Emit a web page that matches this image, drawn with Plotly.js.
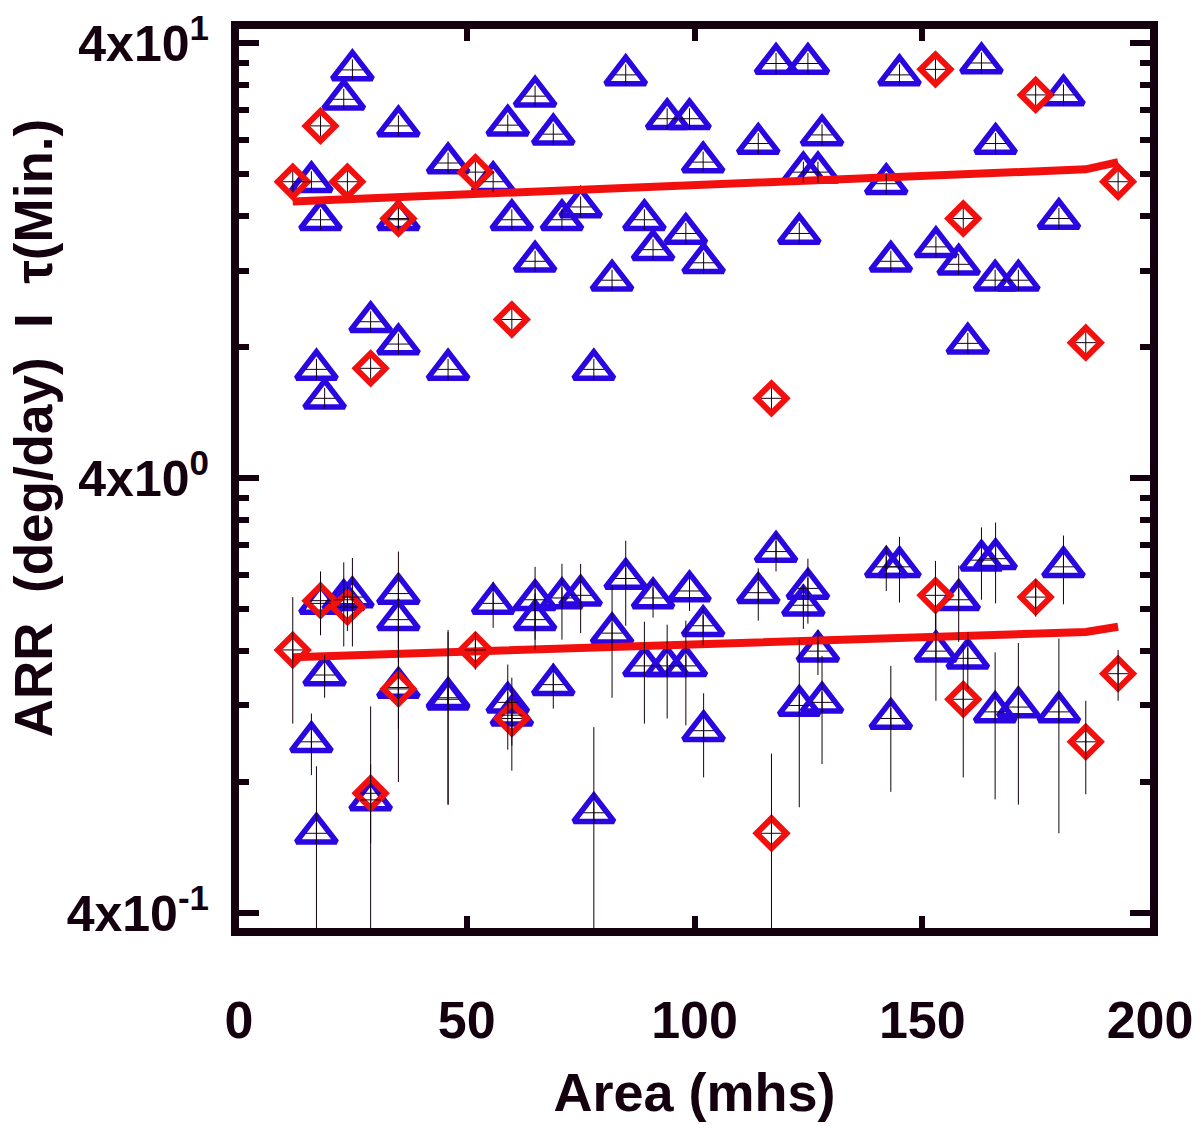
<!DOCTYPE html>
<html>
<head>
<meta charset="utf-8">
<script src="https://cdn.plot.ly/plotly-3.0.1.min.js"></script>
<style>
  html, body { margin: 0; padding: 0; background: #fff; }
  #chart { width: 1200px; height: 1125px; }
</style>
</head>
<body>
<div id="chart"></div>
<script>
// Area (mhs) of each point, triangles and diamonds
var triX = [15.9, 17.0, 17.9, 18.8, 23.0, 24.9, 28.9, 35.0, 35.0, 35.0,
            45.9, 45.9, 55.8, 59.0, 59.9, 65.0, 65.0, 69.0, 70.9, 75.0,
            77.9, 81.9, 84.9, 89.0, 90.9, 94.0, 98.1, 98.9, 101.9, 102.0,
            114.0, 117.9, 123.0, 123.9, 124.9, 127.1, 128.0, 142.1, 143.1, 145.0,
            153.0, 158.0, 160.0, 163.0, 166.1, 166.0, 171.1, 180.0, 181.0];
// tau (min), upper cloud
var triTop = [19.2, 7.11, 15.7, 6.10, 29.7, 34.7, 9.15, 25.8, 15.7, 8.13,
              21.2, 7.11, 19.2, 25.9, 15.7, 30.2, 12.6, 24.7, 15.7, 16.8,
              7.11, 11.4, 33.8, 15.7, 13.4, 26.8, 14.6, 26.8, 21.3, 12.5,
              23.5, 35.9, 14.6, 20.2, 35.9, 20.2, 24.6, 19.0, 12.6, 33.8,
              13.6, 12.4, 8.16, 36.0, 23.5, 11.4, 11.4, 15.8, 30.4];
// ARR (deg/day), lower cloud, and its error
var triBot = [0.99, 0.61, 2.06, 1.41, 2.10, 2.13, 0.728, 2.17, 1.89, 1.32,
              1.24, 1.25, 2.06, 1.22, 1.14, 2.10, 1.89, 1.34, 2.12, 2.15,
              0.68, 1.76, 2.35, 1.48, 2.12, 1.48, 1.48, 2.20, 1.83, 1.05,
              2.18, 2.71, 1.20, 2.04, 2.23, 1.60, 1.22, 2.50, 1.12, 2.50,
              1.60, 2.10, 1.54, 2.59, 2.61, 1.16, 1.19, 1.16, 2.50];
var triErr = [0.16, 0.26, 0.31, 0.16, 0.46, 0.49, 0.15, 0.54, 0.38, 0.26,
              0.53, 0.54, 0.25, 0.27, 0.17, 0.40, 0.28, 0.16, 0.42, 0.39,
              0.39, 0.51, 0.52, 0.39, 0.21, 0.36, 0.40, 0.22, 0.18, 0.23,
              0.30, 0.27, 0.50, 0.24, 0.38, 0.19, 0.34, 0.30, 0.36, 0.43,
              0.37, 0.42, 0.23, 0.49, 0.55, 0.43, 0.48, 0.55, 0.45];

var diaX = [11.8, 17.9, 23.8, 28.9, 35.0, 51.9, 59.9, 116.9, 152.9, 159.0, 174.9, 185.9, 193.0];
var diaTop = [19.2, 25.8, 19.2, 7.15, 15.8, 20.2, 9.26, 6.10, 34.8, 15.8, 30.4, 8.19, 19.2];
var diaBot = [1.61, 2.09, 2.02, 0.754, 1.31, 1.61, 1.12, 0.61, 2.15, 1.24, 2.13, 0.99, 1.42];
var diaErr = [0.52, 0.35, 0.24, 0.44, 0.51, 0.16, 0.27, 0.32, 0.43, 0.42, 0.21, 0.24, 0.19];

// red fit lines
var fitX = [11.8, 185.9, 193.0];
var fitTop = [17.3, 20.5, 21.3];
var fitBot = [1.55, 1.77, 1.82];

// axis ticks
var xTicks = [0, 50, 100, 150, 200];
var yTicks = [0.4, 4, 40];
var yTickText = ['4x10<sup>-1</sup>', '4x10<sup>0</sup>', '4x10<sup>1</sup>'];
var yMinor = [0.8, 1.2, 1.6, 2.0, 2.4, 2.8, 3.2, 3.6, 8, 12, 16, 20, 24, 28, 32, 36];

var BLUE = '#2a06e0', RED = '#f2100e', INK = '#14000f';
var FONT = "'Liberation Sans', Arial, sans-serif";

function tri(y) {
  return {x: triX, y: y, type: 'scatter', mode: 'markers', hoverinfo: 'skip',
    marker: {symbol: 'triangle-up-open', size: 35, color: BLUE, line: {width: 5.5, color: BLUE}}};
}
function dia(y) {
  return {x: diaX, y: y, type: 'scatter', mode: 'markers', hoverinfo: 'skip',
    marker: {symbol: 'diamond-open', size: 23, color: RED, line: {width: 6, color: RED}}};
}
function fit(y) {
  return {x: fitX, y: y, type: 'scatter', mode: 'lines', hoverinfo: 'skip',
    line: {color: RED, width: 8}};
}
function cross(x, y, err) {
  var t = {x: x, y: y, type: 'scatter', mode: 'markers', hoverinfo: 'skip',
    marker: {symbol: 'cross-thin-open', size: 15, color: INK, line: {width: 1, color: INK}}};
  if (err) t.error_y = {type: 'data', array: err, visible: true, color: INK, thickness: 1, width: 0};
  return t;
}

var data = [
  tri(triTop), tri(triBot),
  dia(diaTop), dia(diaBot),
  fit(fitTop), fit(fitBot),
  cross(triX, triTop), cross(diaX, diaTop),
  cross(triX, triBot, triErr), cross(diaX, diaBot, diaErr)
];

var layout = {
  width: 1200, height: 1125,
  margin: {l: 239, r: 50, t: 29, b: 197},
  paper_bgcolor: '#fff', plot_bgcolor: '#fff',
  showlegend: false,
  font: {family: FONT, color: INK, weight: 'bold'},
  xaxis: {
    range: [0, 200], tickmode: 'array', tickvals: xTicks,
    ticks: 'inside', ticklen: 12, tickwidth: 6, tickcolor: INK,
    showline: true, linewidth: 8, linecolor: INK, mirror: 'ticks',
    showgrid: false, zeroline: false,
    tickfont: {family: FONT, size: 52, color: INK, weight: 'bold'},
    ticklabelstandoff: 40, ticklabeloverflow: 'allow',
    title: {text: 'Area (mhs)', standoff: 28, font: {family: FONT, size: 54, color: INK, weight: 'bold'}}
  },
  yaxis: {
    type: 'log', range: [-0.4324, 1.6344],
    tickmode: 'array', tickvals: yTicks, ticktext: yTickText,
    ticks: 'inside', ticklen: 20, tickwidth: 6, tickcolor: INK,
    minor: {tickmode: 'array', tickvals: yMinor, ticks: 'inside', ticklen: 10, tickwidth: 6, tickcolor: INK, showgrid: false},
    showline: true, linewidth: 8, linecolor: INK, mirror: 'ticks',
    showgrid: false, zeroline: false,
    tickfont: {family: FONT, size: 50, color: INK, weight: 'bold'},
    ticklabelstandoff: 12
  },
  annotations: [{
    text: 'ARR  (deg/day)  I  \u03c4(Min.)',
    xref: 'paper', yref: 'paper', x: -0.226, y: 0.556,
    xanchor: 'center', yanchor: 'middle', textangle: -90, showarrow: false,
    font: {family: FONT, size: 53, color: INK, weight: 'bold'}
  }]
};

Plotly.newPlot('chart', data, layout, {staticPlot: true});
</script>
</body>
</html>
